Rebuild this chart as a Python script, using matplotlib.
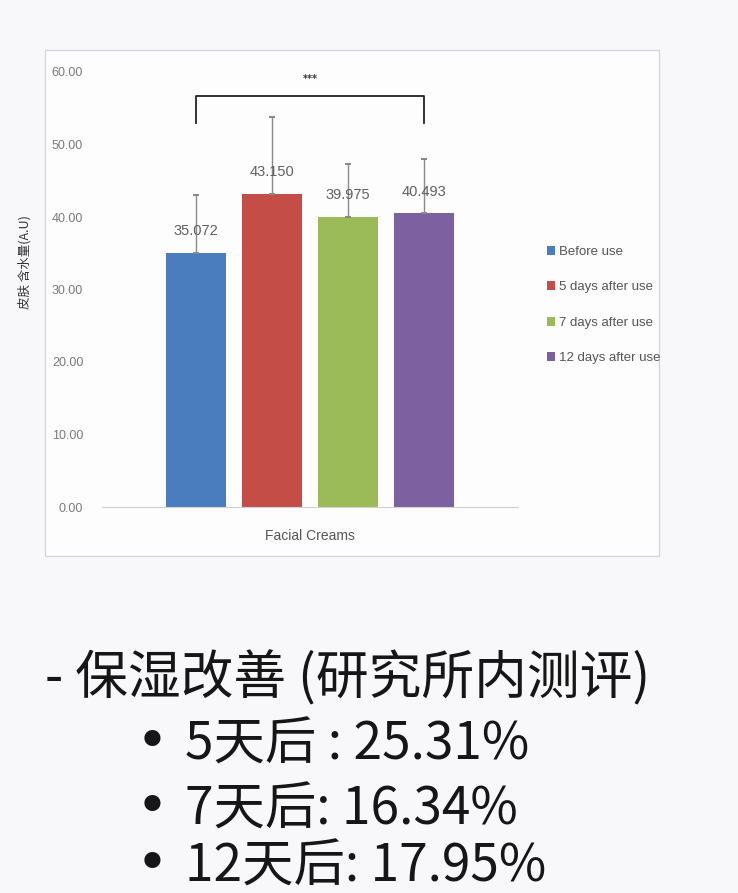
import matplotlib.pyplot as plt
from matplotlib.patches import Rectangle

plt.rcParams['font.family'] = ['Noto Sans CJK SC', 'DejaVu Sans']

# data
groups = ['Before use', '5 days after use', '7 days after use', '12 days after use']
means = [35.072, 43.150, 39.975, 40.493]
errs = [8.0, 10.6, 7.3, 7.5]
colors = ['#4a7dbe', '#c44d48', '#9bbb59', '#7d60a0']
value_labels = ['35.072', '43.150', '39.975', '40.493']
y_ticks = [0, 10, 20, 30, 40, 50, 60]
note_title = '- 保湿改善 (研究所内测评)'
notes = ['5天后 : 25.31%', '7天后: 16.34%', '12天后: 17.95%']

W, H = 738, 893
fig = plt.figure(figsize=(W / 100, H / 100), dpi=100, facecolor='#f8f8fa')

# chart frame
fig.patches.append(Rectangle((45 / W, 1 - 556 / H), 614 / W, 506 / H,
                             transform=fig.transFigure, facecolor='#fdfdfe',
                             edgecolor='#d6d6da', linewidth=1, zorder=-10))

ax = fig.add_axes([102 / W, 1 - 507 / H, 416 / W, 435 / H])
ax.set_facecolor('none')

narrow = ['Liberation Sans', 'DejaVu Sans']

x = list(range(len(groups)))
ax.bar(x, means, width=0.79, color=colors, label=groups, zorder=2)
ax.errorbar(x, means, yerr=[[0] * len(errs), errs], fmt='none',
            ecolor='#8a8a8a', elinewidth=1, capsize=2.5, capthick=1.5, zorder=3)
for xi, m, s in zip(x, means, value_labels):
    ax.text(xi, m + 3.0, s, ha='center', va='center', fontsize=10.5,
            color='#606060', family=narrow, zorder=4)

# significance bracket
ax.plot([0, 0, 3, 3], [53.0, 56.7, 56.7, 53.0], color='#222222', lw=1.3, zorder=3)
ax.text(1.5, 59.0, '***', ha='center', va='center', fontsize=7, fontweight='bold',
        color='#333333', family='DejaVu Sans')

ax.set_xlim(-1.24, 4.24)
ax.set_ylim(0, 60)
ax.set_yticks(y_ticks)
ax.set_yticklabels([f'{v:.2f}' for v in y_ticks])
ax.set_xticks([1.5])
ax.set_xticklabels(['Facial Creams'])
ax.tick_params(axis='y', length=0, pad=13.5, labelsize=9, labelcolor='#7a7a7a')
ax.tick_params(axis='x', length=0, pad=16, labelsize=10, labelcolor='#555555')
for lab in ax.get_yticklabels() + ax.get_xticklabels():
    lab.set_family(narrow)
for sp in ['top', 'right', 'left']:
    ax.spines[sp].set_visible(False)
ax.spines['bottom'].set_color('#d0d0d0')

fig.text(25 / W, 1 - 262 / H, '皮肤 含水量(A.U)', rotation=90, ha='center', va='center',
         fontsize=9, color='#333333')

leg = ax.legend(loc='center left', bbox_to_anchor=(535 / W, 1 - 305 / H),
                bbox_transform=fig.transFigure, frameon=False,
                handlelength=0.6, handleheight=0.7, handletextpad=0.3, labelspacing=1.75,
                prop={'family': narrow, 'size': 9.5})
for t in leg.get_texts():
    t.set_color('#555555')

# notes below chart
fig.text(45 / W, 1 - 679 / H, note_title, ha='left', va='center', fontsize=38,
         color='#161616', fontweight='light')
for txt, yc in zip(notes, [745, 810, 867]):
    fig.text(152 / W, 1 - (yc - 1) / H, '•', ha='center', va='center', fontsize=40,
             color='#161616', family='DejaVu Sans')
    fig.text(185 / W, 1 - yc / H, txt, ha='left', va='center', fontsize=37,
             color='#161616', fontweight='light')

fig.savefig('out.png', dpi=100, facecolor=fig.get_facecolor())
